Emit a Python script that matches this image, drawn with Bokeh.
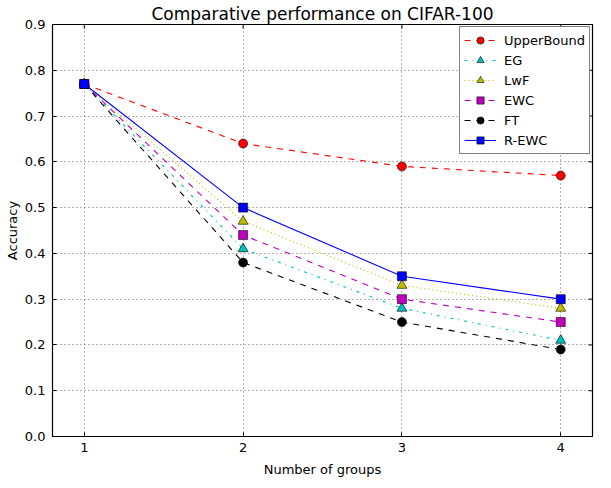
from bokeh.plotting import figure
from bokeh.models import Legend, LegendItem, FixedTicker, Range1d, CustomJSTickFormatter
from bokeh.embed import file_html
from bokeh.resources import INLINE

groups = [1, 2, 3, 4]
upper_bound = [0.77, 0.64, 0.59, 0.57]
eg = [0.77, 0.41, 0.28, 0.21]
lwf = [0.77, 0.47, 0.33, 0.28]
ewc = [0.77, 0.44, 0.30, 0.25]
ft = [0.77, 0.38, 0.25, 0.19]
r_ewc = [0.77, 0.50, 0.35, 0.30]

series = [
    ("UpperBound", upper_bound, "#ff0000", "6 6", "circle", 9),
    ("EG", eg, "#00bfbf", "3 5 1 5", "triangle", 10),
    ("LwF", lwf, "#bfbf00", "1 3", "triangle", 10),
    ("EWC", ewc, "#bf00bf", "6 6", "square", 9),
    ("FT", ft, "#000000", "6 6", "circle", 9),
    ("R-EWC", r_ewc, "#0000ff", "solid", "square", 9),
]

FONT = "DejaVu Sans"
y_ticks = [0.0, 0.1, 0.2, 0.3, 0.4, 0.5, 0.6, 0.7, 0.8, 0.9]
X0, X1, Y0, Y1 = 0.8, 4.2, 0.0, 0.9
FW, FH = 540, 412

p = figure(frame_width=FW, frame_height=FH, output_backend="svg", toolbar_location=None,
           x_range=Range1d(X0, X1), y_range=Range1d(Y0, Y1),
           title="Comparative performance on CIFAR-100",
           min_border_left=52, min_border_right=3, min_border_top=20, min_border_bottom=38)

p.title.text_font = FONT
p.title.text_font_size = "17px"
p.title.text_font_style = "normal"
p.title.text_color = "black"
p.title.align = "center"
p.title.offset = 0
p.title.standoff = 2

p.outline_line_color = "black"
p.outline_line_width = 1.2
p.background_fill_color = "white"

for ax in (p.xaxis[0], p.yaxis[0]):
    ax.major_label_text_font = FONT
    ax.major_label_text_font_size = "13px"
    ax.axis_label_text_font = FONT
    ax.axis_label_text_font_size = "13px"
    ax.axis_label_text_font_style = "normal"
    ax.major_tick_in = 4
    ax.major_tick_out = 0
    ax.minor_tick_in = 0
    ax.minor_tick_out = 0
    ax.axis_line_color = "black"
    ax.major_tick_line_color = "black"
    ax.major_label_text_color = "black"
    ax.axis_label_text_color = "black"

p.xaxis[0].ticker = FixedTicker(ticks=groups)
p.yaxis[0].ticker = FixedTicker(ticks=y_ticks)
p.yaxis[0].formatter = CustomJSTickFormatter(code="return tick.toFixed(1);")
p.xaxis[0].axis_label = "Number of groups"
p.yaxis[0].axis_label = "Accuracy"
p.xaxis[0].major_label_standoff = 6
p.yaxis[0].major_label_standoff = 7
p.xaxis[0].axis_label_standoff = 7
p.yaxis[0].axis_label_standoff = 2

# inward ticks on the right and top frame edges (matplotlib classic look)
dx = 4 * (X1 - X0) / FW
dy = 4 * (Y1 - Y0) / FH
p.segment(x0=[X1] * len(y_ticks), y0=y_ticks, x1=[X1 - dx] * len(y_ticks), y1=y_ticks,
          line_color="black", line_width=1)
p.segment(x0=groups, y0=[Y1] * len(groups), x1=groups, y1=[Y1 - dy] * len(groups),
          line_color="black", line_width=1)

p.grid.grid_line_color = "black"
p.grid.grid_line_alpha = 0.6
p.grid.grid_line_dash = "1 3"
p.xgrid.ticker = FixedTicker(ticks=groups)
p.ygrid.ticker = FixedTicker(ticks=y_ticks)

items = []
for name, vals, color, dash, marker, size in series:
    r_line = p.line(groups, vals, line_color=color, line_width=1.1, line_dash=dash)
    r_pts = p.scatter(groups, vals, marker=marker, size=size, fill_color=color,
                      line_color="black", line_width=0.6)
    items.append(LegendItem(label=name, renderers=[r_line, r_pts]))

legend = Legend(items=items, location="top_right")
legend.label_text_font = FONT
legend.label_text_font_size = "13px"
legend.label_text_color = "black"
legend.border_line_color = "black"
legend.border_line_width = 1
legend.background_fill_alpha = 1
legend.margin = 2
legend.padding = 4
legend.spacing = 2
legend.glyph_width = 32
legend.glyph_height = 18
legend.label_standoff = 8
legend.label_height = 18
p.add_layout(legend)

open("out.html", "w").write(file_html(p, INLINE))
